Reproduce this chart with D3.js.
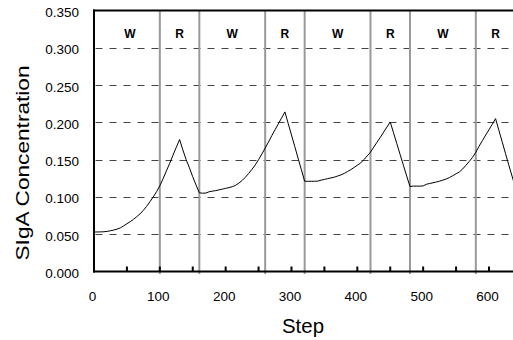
<!DOCTYPE html>
<html>
<head>
<meta charset="utf-8">
<script src="https://cdn.jsdelivr.net/npm/d3@7"></script>
<style>
body { margin: 0; background: #fff; }
svg { display: block; font-family: "Liberation Sans", Arial, sans-serif; }
</style>
</head>
<body>
<svg id="chart" width="513" height="340"></svg>
<script>
// simulation output, one value every 5 steps
var steps = d3.range(0, 641, 5);
var sigA = [
	// W 0-100
	0.0530, 0.0530, 0.0531, 0.0533, 0.0538, 0.0546, 0.0556, 0.0568, 0.0585, 0.0612,
	0.0640, 0.0668, 0.0700, 0.0735, 0.0774, 0.0820, 0.0874, 0.0936, 0.1000, 0.1070,
	// R 100-160
	0.1150, 0.1245, 0.1350, 0.1450, 0.1560, 0.1665, 0.1770, 0.1630, 0.1500, 0.1390,
	0.1270, 0.1160,
	// W 160-260
	0.1055, 0.1050, 0.1052, 0.1070, 0.1078, 0.1085, 0.1095, 0.1105, 0.1115, 0.1125,
	0.1137, 0.1155, 0.1185, 0.1220, 0.1265, 0.1315, 0.1370, 0.1430, 0.1500, 0.1575,
	// R 260-320
	0.1655, 0.1735, 0.1820, 0.1900, 0.1980, 0.2060, 0.2140, 0.1985, 0.1830, 0.1675,
	0.1520, 0.1365,
	// W 320-420
	0.1210, 0.1210, 0.1210, 0.1210, 0.1212, 0.1225, 0.1235, 0.1245, 0.1255, 0.1265,
	0.1280, 0.1295, 0.1315, 0.1340, 0.1365, 0.1395, 0.1425, 0.1455, 0.1500, 0.1550,
	// R 420-480
	0.1600, 0.1668, 0.1735, 0.1800, 0.1870, 0.1937, 0.2005, 0.1860, 0.1715, 0.1570,
	0.1425, 0.1280,
	// W 480-580
	0.1140, 0.1145, 0.1145, 0.1145, 0.1148, 0.1170, 0.1180, 0.1190, 0.1200, 0.1212,
	0.1225, 0.1240, 0.1260, 0.1285, 0.1310, 0.1335, 0.1375, 0.1425, 0.1475, 0.1530,
	// R 580-640
	0.1600, 0.1680, 0.1755, 0.1830, 0.1900, 0.1975, 0.2050, 0.1895, 0.1740, 0.1585,
	0.1430, 0.1280, 0.1130
];

// W = work, R = rest
var phaseNames = ['W', 'R', 'W', 'R', 'W', 'R', 'W', 'R'];
var phaseStarts = [0, 100, 160, 260, 320, 420, 480, 580];
var phaseEnds = [100, 160, 260, 320, 420, 480, 580, 640];

var yTicks = [0, 0.05, 0.1, 0.15, 0.2, 0.25, 0.3, 0.35];
var gridTicks = [0.05, 0.1, 0.15, 0.2, 0.25, 0.3];
var xTickMarks = d3.range(0, 651, 50);
var xTickLabels = [0, 100, 200, 300, 400, 500, 600];

var W = 513, H = 340;
var plotLeft = 94, plotTop = 10.5, plotBottom = 271.5;

var svg = d3.select('#chart');

var x = d3.scaleLinear().domain([0, 650]).range([plotLeft, plotLeft + 650 * 0.6583]);
var y = d3.scaleLinear().domain([0, 0.35]).range([plotBottom, plotTop]);

svg.append('defs').append('clipPath')
	.attr('id', 'plotClip')
	.append('rect')
		.attr('x', plotLeft)
		.attr('y', plotTop - 2)
		.attr('width', W - plotLeft)
		.attr('height', plotBottom - plotTop + 6);

var plot = svg.append('g').attr('clip-path', 'url(#plotClip)');

// dashed grid
plot.selectAll('line.grid').data(gridTicks).enter()
	.append('line')
		.attr('class', 'grid')
		.attr('x1', plotLeft + 1.5)
		.attr('x2', W)
		.attr('y1', function(d){return Math.round(y(d)) + 0.5})
		.attr('y2', function(d){return Math.round(y(d)) + 0.5})
		.attr('stroke', '#444')
		.attr('stroke-width', 1)
		.attr('stroke-dasharray', '7,7');

// phase boundaries
plot.selectAll('line.phase').data(phaseStarts.slice(1)).enter()
	.append('line')
		.attr('class', 'phase')
		.attr('x1', function(d){return x(d)})
		.attr('x2', function(d){return x(d)})
		.attr('y1', plotTop)
		.attr('y2', plotBottom + 2.5)
		.attr('stroke', '#999')
		.attr('stroke-width', 2);

// phase labels
plot.selectAll('text.phase').data(phaseNames).enter()
	.append('text')
		.attr('class', 'phase')
		.attr('x', function(d, i){return x((phaseStarts[i] + phaseEnds[i]) / 2) + (i == 0 ? 3 : 0)})
		.attr('y', 37.5)
		.attr('text-anchor', 'middle')
		.attr('font-size', '12px')
		.attr('font-weight', 'bold')
		.text(function(d){return d});

// the curve
var line = d3.line()
	.x(function(d, i){return x(steps[i])})
	.y(function(d){return y(d)});

plot.append('path')
	.datum(sigA)
	.attr('d', line)
	.attr('fill', 'none')
	.attr('stroke', '#000')
	.attr('stroke-width', 1);

// frame: top border, y axis, x axis
svg.append('line')
	.attr('x1', plotLeft - 1).attr('x2', W)
	.attr('y1', plotTop).attr('y2', plotTop)
	.attr('stroke', '#000').attr('stroke-width', 2);
svg.append('line')
	.attr('x1', plotLeft).attr('x2', plotLeft)
	.attr('y1', plotTop - 1).attr('y2', plotBottom + 1)
	.attr('stroke', '#000').attr('stroke-width', 2);
svg.append('line')
	.attr('x1', plotLeft - 1).attr('x2', W)
	.attr('y1', plotBottom).attr('y2', plotBottom)
	.attr('stroke', '#000').attr('stroke-width', 2.2);

// x ticks point inward
svg.selectAll('line.xtick').data(xTickMarks).enter()
	.append('line')
		.attr('class', 'xtick')
		.attr('x1', function(d){return x(d)})
		.attr('x2', function(d){return x(d)})
		.attr('y1', plotBottom)
		.attr('y2', plotBottom - 5)
		.attr('stroke', '#000')
		.attr('stroke-width', 2);

svg.selectAll('text.xlab').data(xTickLabels).enter()
	.append('text')
		.attr('class', 'xlab')
		.attr('x', function(d){return x(d) - 1.5})
		.attr('y', 300.5)
		.attr('text-anchor', 'middle')
		.attr('font-size', '13.5px')
		.text(function(d){return d});

var fmt = d3.format('.3f');
svg.selectAll('text.ylab').data(yTicks).enter()
	.append('text')
		.attr('class', 'ylab')
		.attr('x', 79)
		.attr('y', function(d){return y(d) + 6.5})
		.attr('text-anchor', 'end')
		.attr('font-size', '13.5px')
		.text(function(d){return fmt(d)});

// axis titles
svg.append('text')
	.attr('x', 303)
	.attr('y', 333)
	.attr('text-anchor', 'middle')
	.attr('font-size', '19.5px')
	.attr('textLength', 42)
	.attr('lengthAdjust', 'spacingAndGlyphs')
	.text('Step');

svg.append('text')
	.attr('transform', 'translate(28.5,163) rotate(-90)')
	.attr('text-anchor', 'middle')
	.attr('font-size', '18.5px')
	.attr('textLength', 195)
	.attr('lengthAdjust', 'spacingAndGlyphs')
	.text('SIgA Concentration');
</script>
</body>
</html>
